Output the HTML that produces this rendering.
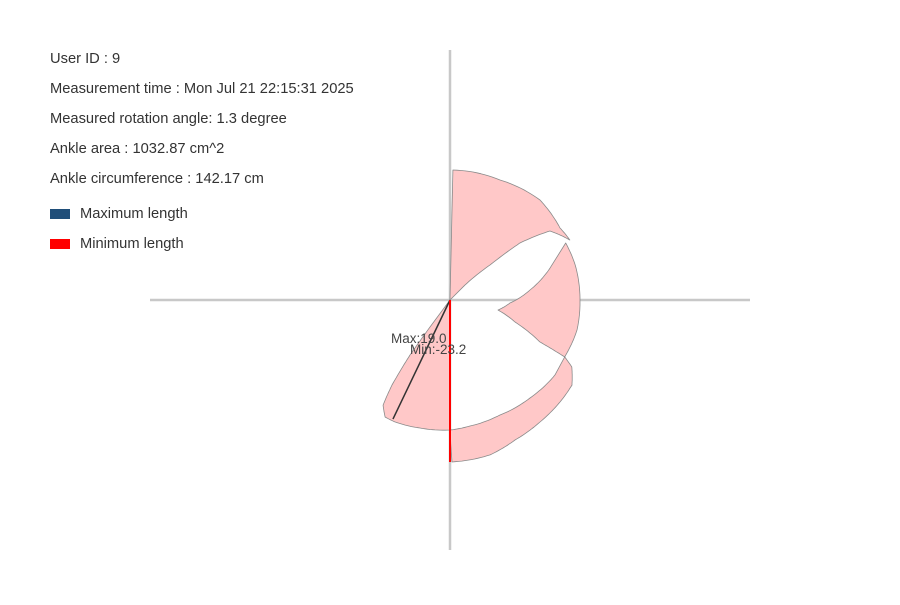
<!DOCTYPE html>
<html><head><meta charset="utf-8"><style>
body{margin:0;background:#fff;}
svg text{font-family:"Liberation Sans",sans-serif;}
</style></head><body>
<svg width="900" height="600" viewBox="0 0 900 600" id="chart">
<rect width="900" height="600" fill="#fff"/>
<line x1="150" y1="300" x2="750" y2="300" stroke="#c8c8c8" stroke-width="2.5"/>
<line x1="450" y1="50" x2="450" y2="550" stroke="#c8c8c8" stroke-width="2.5"/>
<g id="shapes"></g>
<g fill="#333" font-size="14.7">
<text x="50" y="63">User ID : 9</text>
<text x="50" y="93">Measurement time : Mon Jul 21 22:15:31 2025</text>
<text x="50" y="123">Measured rotation angle: 1.3 degree</text>
<text x="50" y="153">Ankle area : 1032.87 cm^2</text>
<text x="50" y="183">Ankle circumference : 142.17 cm</text>
</g>
<g>
<rect x="50" y="209" width="20" height="10" fill="#1f4e79"/>
<text x="80" y="218" font-size="14.7" fill="#333">Maximum length</text>
<rect x="50" y="239" width="20" height="10" fill="#ff0000"/>
<text x="80" y="248" font-size="14.7" fill="#333">Minimum length</text>
</g>
</svg>
<script>
const cx=450, cy=300;
// region angles (deg, clockwise from up) and radii (px-scale)
const topAngles=[0,1.3,22.6,42,56.8,63.4,55.4,50.8,48.8,45,0];
const topRadii=[0,130,130,134.5,131.5,134,121.5,90,53,21,0];
const rightAngles=[63.8,74.4,90,103.3,116.4,115,108.7,101.8,92.9,82.9,72.3];
const rightRadii=[129,130,130,130.5,128,99,68.6,49,60,80.6,105];
const lowAngles=[116.4,118.8,124.9,132.8,143.6,155.1,165.5,179.3,180,171,156.5,140.8,125.5];
const lowRadii=[128,139,148.7,150,151.6,154.4,160,162,130,127.6,125.4,126.5,129];
const leftAngles=[0,180,193.2,204.3,209,212.5,214.3,216,216.5];
const leftRadii=[0,130,131.5,133.8,133.8,124.6,102.9,68,33.6];
const maxAngle=205.6, maxLen=132, maxLabel="Max:19.0";
const minAngle=180, minLen=162, minLabel="Min:-23.2";
function px(a,r){return cx+r*Math.sin(a*Math.PI/180);}
function py(a,r){return cy-r*Math.cos(a*Math.PI/180);}
const NS="http://www.w3.org/2000/svg";
const g=document.getElementById('shapes');
function region(as,rs,name){
  let d='M'+px(as[0],rs[0]).toFixed(1)+','+py(as[0],rs[0]).toFixed(1);
  for(let i=0;i<as.length-1;i++){
    const n=(rs[i]===0||rs[i+1]===0)?1:12;
    for(let k=1;k<=n;k++){
      const t=k/n,a=as[i]+(as[i+1]-as[i])*t,r=rs[i]+(rs[i+1]-rs[i])*t;
      d+='L'+px(a,r).toFixed(1)+','+py(a,r).toFixed(1);
    }
  }
  const p=document.createElementNS(NS,'path');
  p.setAttribute('d',d+'Z');
  p.setAttribute('fill','#ffc8c8');
  p.setAttribute('stroke','#8a8a8a');
  p.setAttribute('stroke-width','0.8');
  p.setAttribute('stroke-linejoin','round');
  
  
  g.appendChild(p);
}
region(topAngles,topRadii,'top-lobe');
region(rightAngles,rightRadii,'right-lobe');
region(lowAngles,lowRadii,'lower-band');
region(leftAngles,leftRadii,'lower-left-lobe');
function seg(a,r,color,w,name){
  const l=document.createElementNS(NS,'line');
  l.setAttribute('x1',cx);l.setAttribute('y1',cy);
  l.setAttribute('x2',px(a,r));l.setAttribute('y2',py(a,r));
  l.setAttribute('stroke',color);l.setAttribute('stroke-width',w);
  
  
  g.appendChild(l);
}
seg(maxAngle,maxLen,'#333','1.5','max-length-line');
seg(minAngle,minLen,'#ff0000','2','min-length-line');
function label(x,y,t,name){
  const e=document.createElementNS(NS,'text');
  e.setAttribute('x',x);e.setAttribute('y',y);
  e.setAttribute('font-size','13.5');e.setAttribute('fill','#444');
  e.textContent=t;
  
  
  g.appendChild(e);
}
label(391,343,maxLabel,'max-label');
label(410,354,minLabel,'min-label');
</script>
</body></html>
